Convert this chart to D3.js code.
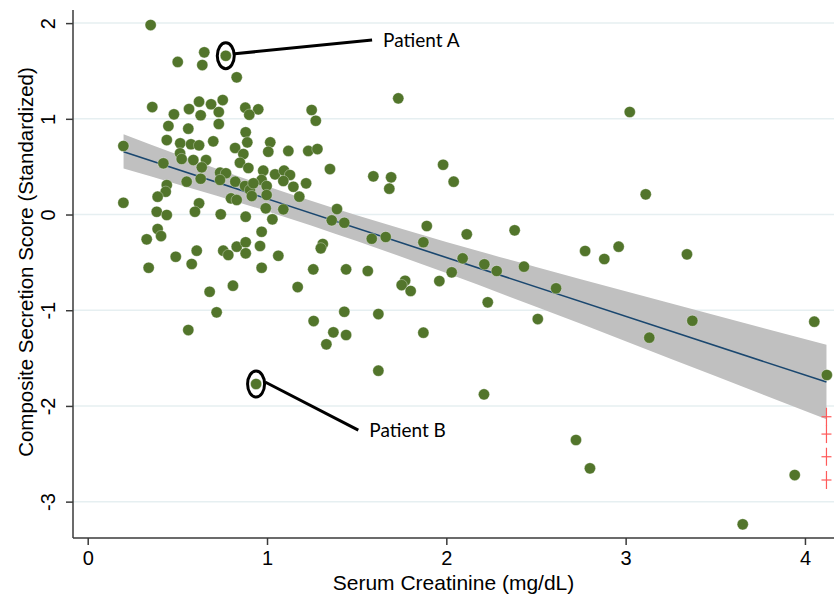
<!DOCTYPE html>
<html>
<head>
<meta charset="utf-8">
<script src="https://cdn.jsdelivr.net/npm/d3@7"></script>
<style>
  body { margin: 0; background: #fff; }
  svg { display: block; }
</style>
</head>
<body>
<div id="chart"></div>
<script>
// serum creatinine (mg/dL) per patient
const creatinine = [
  0.351,0.502,0.650,0.639,0.770,0.831,0.360,0.565,0.621,0.688,
  0.753,0.879,0.951,1.249,1.272,1.732,3.023,0.481,0.630,0.731,
  0.731,0.901,0.450,0.561,0.441,0.199,0.516,0.576,0.621,0.700,
  0.881,0.890,1.018,1.007,1.119,0.822,0.868,1.230,1.281,0.515,
  0.524,0.589,0.660,0.636,0.422,0.552,0.630,0.738,0.771,0.738,
  0.849,0.896,0.979,1.045,1.095,1.128,0.970,0.998,1.091,1.147,
  1.218,1.180,0.823,0.877,0.905,0.924,0.915,0.998,0.799,0.831,
  0.441,0.435,0.390,0.199,0.621,0.598,0.385,0.441,0.742,0.881,
  0.993,1.030,1.091,0.970,0.390,0.409,0.329,0.608,0.491,0.756,
  0.784,0.831,0.881,0.881,0.961,1.063,0.580,0.340,0.970,1.258,
  1.311,1.300,0.680,0.810,1.171,0.719,0.561,1.260,1.370,1.331,
  0.939,1.431,1.441,1.621,1.621,1.351,1.593,1.692,1.682,1.982,
  2.041,1.390,1.361,1.431,1.584,1.662,1.891,1.872,2.114,2.381,
  2.091,2.212,2.281,2.433,2.612,2.030,1.961,1.441,1.562,1.770,
  1.751,1.801,1.872,2.231,2.510,2.210,2.723,2.801,3.112,2.774,
  2.881,2.961,3.342,3.372,3.132,4.052,4.122,3.943,3.653
];

// composite secretion score (standardized)
const secretion = [
  1.980,1.594,1.695,1.562,1.659,1.434,1.123,1.102,1.179,1.152,
  1.196,1.116,1.099,1.092,0.980,1.214,1.071,1.047,1.037,1.071,
  0.946,1.043,0.925,0.897,0.778,0.716,0.744,0.734,0.723,0.765,
  0.859,0.754,0.754,0.656,0.664,0.695,0.632,0.664,0.684,0.640,
  0.580,0.569,0.569,0.493,0.535,0.343,0.374,0.437,0.431,0.361,
  0.541,0.486,0.458,0.420,0.458,0.413,0.361,0.298,0.350,0.290,
  0.326,0.186,0.343,0.298,0.256,0.326,0.193,0.204,0.169,0.152,
  0.308,0.238,0.186,0.123,0.117,0.029,0.029,-0.005,0.002,-0.023,
  0.065,-0.050,0.054,-0.180,-0.152,-0.225,-0.259,-0.378,-0.441,-0.378,
  -0.423,-0.336,-0.290,-0.405,-0.329,-0.431,-0.517,-0.556,-0.556,-0.573,
  -0.308,-0.353,-0.807,-0.744,-0.758,-1.022,-1.207,-1.113,-1.231,-1.356,
  -1.771,-1.016,-1.259,-1.040,-1.632,0.475,0.399,0.389,0.270,0.520,
  0.343,0.057,-0.061,-0.086,-0.253,-0.235,-0.120,-0.290,-0.207,-0.165,
  -0.458,-0.520,-0.590,-0.545,-0.771,-0.604,-0.695,-0.573,-0.590,-0.692,
  -0.737,-0.799,-1.235,-0.917,-1.092,-1.879,-2.356,-2.652,0.211,-0.381,
  -0.465,-0.336,-0.416,-1.110,-1.287,-1.120,-1.677,-2.722,-3.237
];

// red crosses at the right edge
const crossX = [4.12, 4.12, 4.12, 4.12];
const crossY = [-2.113, -2.294, -2.531, -2.774];

// fitted line and 95% CI band
const fitX = [0.2, 4.12];
const fitY = [0.656, -1.751];
const ciX = [0.2, 0.5, 1.0, 1.5, 2.0, 2.5, 3.0, 3.5, 4.12];
const ciLow = [0.48, 0.316, 0.035, -0.277, -0.612, -0.964, -1.323, -1.687, -2.14];
const ciHigh = [0.84, 0.628, 0.295, -0.007, -0.286, -0.548, -0.803, -1.053, -1.36];

// annotations
const patientLabels = ["Patient A", "Patient B"];
const patientX = [0.770, 0.939];
const patientY = [1.659, -1.771];
const labelX = [1.586, 1.509];
const labelY = [1.823, -2.252];

const xTicks = [0, 1, 2, 3, 4];
const yTicks = [-3, -2, -1, 0, 1, 2];

const width = 834, height = 598;
const margin = {top: 10, right: 0, bottom: 60, left: 73};

const svg = d3.select("#chart").append("svg")
  .attr("width", width)
  .attr("height", height);

const x = d3.scaleLinear()
  .domain([-0.082, 4.162])
  .range([margin.left, width - margin.right]);

const y = d3.scaleLinear()
  .domain([-3.38, 2.137])
  .range([height - margin.bottom, margin.top]);

const axisFont = "'Liberation Sans', Arial, sans-serif";
const noteFont = "Lato, 'Open Sans', sans-serif";

// gridlines
svg.append("g")
  .selectAll("line")
  .data(yTicks)
  .enter()
  .append("line")
  .attr("x1", margin.left)
  .attr("x2", width - margin.right)
  .attr("y1", d => y(d))
  .attr("y2", d => y(d))
  .attr("stroke", "#e6eff1")
  .attr("stroke-width", 1.5);

// CI band
const band = ciX.map((d, i) => ({x: d, lo: ciLow[i], hi: ciHigh[i]}));
svg.append("path")
  .datum(band)
  .attr("fill", "#c0c0c0")
  .attr("d", d3.area()
    .x(d => x(d.x))
    .y0(d => y(d.lo))
    .y1(d => y(d.hi))
    .curve(d3.curveMonotoneX));

// fitted line
svg.append("path")
  .datum(fitX.map((d, i) => [d, fitY[i]]))
  .attr("fill", "none")
  .attr("stroke", "#1a476f")
  .attr("stroke-width", 1.6)
  .attr("d", d3.line().x(d => x(d[0])).y(d => y(d[1])));

// scatter points
svg.append("g")
  .selectAll("circle")
  .data(creatinine.map((d, i) => [d, secretion[i]]))
  .enter()
  .append("circle")
  .attr("cx", d => x(d[0]))
  .attr("cy", d => y(d[1]))
  .attr("r", 5.6)
  .attr("fill", "#52752b")
  .attr("stroke", "rgba(255,255,255,0.55)")
  .attr("stroke-width", 0.6);

// red crosses
const crosses = svg.append("g")
  .attr("stroke", "#ff5a5a")
  .attr("stroke-width", 1.2);
crossX.forEach((cx, i) => {
  const px = x(cx), py = y(crossY[i]);
  crosses.append("line").attr("x1", px - 5).attr("x2", px + 5).attr("y1", py).attr("y2", py);
  crosses.append("line").attr("x1", px).attr("x2", px).attr("y1", py - 9).attr("y2", py + 9);
});

// axes (plain hyphen for negatives, like the original)
const fmt = d => String(d);

const xAxis = svg.append("g")
  .attr("transform", "translate(0," + (height - margin.bottom) + ")")
  .call(d3.axisBottom(x).tickValues(xTicks).tickSize(7).tickPadding(6).tickFormat(fmt));
xAxis.select(".domain").attr("d", "M" + margin.left + ",0H" + (width - margin.right));

const yAxis = svg.append("g")
  .attr("transform", "translate(" + margin.left + ",0)")
  .call(d3.axisLeft(y).tickValues(yTicks).tickSize(7).tickFormat(fmt));
yAxis.select(".domain").attr("d", "M0," + margin.top + "V" + (height - margin.bottom));

[xAxis, yAxis].forEach(g => {
  g.select(".domain").attr("stroke", "#3a3a3a").attr("stroke-width", 1.5);
  g.selectAll(".tick line").attr("stroke", "#3a3a3a").attr("stroke-width", 1.5);
  g.selectAll("text").attr("font-family", axisFont).attr("font-size", 20).attr("fill", "#000");
});

// rotate y tick labels like Stata
yAxis.selectAll(".tick text")
  .attr("x", null)
  .attr("dy", null)
  .attr("text-anchor", "middle")
  .attr("transform", "translate(-18,0) rotate(-90)");

// axis titles
svg.append("text")
  .attr("x", (margin.left + width - margin.right) / 2)
  .attr("y", 590)
  .attr("text-anchor", "middle")
  .attr("font-family", axisFont)
  .attr("font-size", 21)
  .text("Serum Creatinine (mg/dL)");

svg.append("text")
  .attr("transform", "translate(33,262) rotate(-90)")
  .attr("text-anchor", "middle")
  .attr("font-family", axisFont)
  .attr("font-size", 20.5)
  .text("Composite Secretion Score (Standardized)");

// patient annotations
patientLabels.forEach((label, i) => {
  const px = x(patientX[i]), py = y(patientY[i]);
  const lx = x(labelX[i]), ly = y(labelY[i]);
  svg.append("line")
    .attr("x1", px + 9).attr("y1", py - 2)
    .attr("x2", lx).attr("y2", ly)
    .attr("stroke", "#000")
    .attr("stroke-width", 3);
  svg.append("ellipse")
    .attr("cx", px).attr("cy", py)
    .attr("rx", 8.5).attr("ry", 13)
    .attr("fill", "none")
    .attr("stroke", "#000")
    .attr("stroke-width", 3);
  svg.append("text")
    .attr("x", lx + 11)
    .attr("y", ly)
    .attr("dy", "0.35em")
    .attr("font-family", noteFont)
    .attr("font-size", 19)
    .text(label);
});
</script>
</body>
</html>
